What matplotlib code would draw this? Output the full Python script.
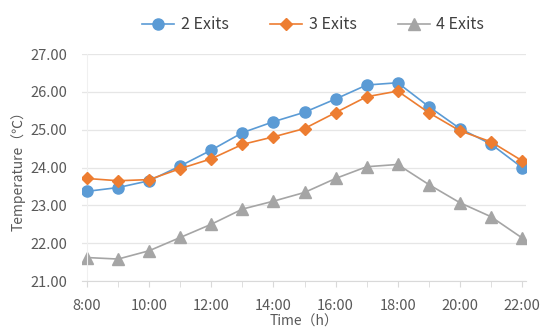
import matplotlib
matplotlib.use("Agg")
import matplotlib.pyplot as plt
from matplotlib.ticker import FixedLocator, FuncFormatter

plt.rcParams['font.family'] = ['Noto Sans CJK SC', 'DejaVu Sans']

hours = list(range(8, 23))
hour_labels = [f"{h}:00" for h in hours]
exits2 = [23.37, 23.47, 23.65, 24.04, 24.46, 24.92, 25.21, 25.46, 25.81, 26.18,
          26.24, 25.61, 25.03, 24.62, 24.00]
exits3 = [23.71, 23.65, 23.68, 23.97, 24.23, 24.61, 24.81, 25.03, 25.45, 25.87,
          26.02, 25.45, 24.97, 24.68, 24.18]
exits4 = [21.62, 21.58, 21.80, 22.15, 22.50, 22.90, 23.11, 23.34, 23.71, 24.02,
          24.08, 23.55, 23.07, 22.70, 22.14]
y_ticks = [21, 22, 23, 24, 25, 26, 27]

text_color = "#595959"
grid_color = "#E6E6E6"

fig = plt.figure(figsize=(5.42, 3.31), dpi=100)
ax = fig.add_axes([82 / 542, 50 / 331, 444 / 542, 227 / 331])

ax.plot(hours, exits2, color="#5B9BD5", lw=1.2, marker="o", ms=8,
        label="2 Exits", zorder=3)
ax.plot(hours, exits3, color="#ED7D31", lw=1.2, marker="D", ms=6.3,
        label="3 Exits", zorder=4)
ax.plot(hours, exits4, color="#A5A5A5", lw=1.2, marker="^", ms=8.5,
        label="4 Exits", zorder=2)

ax.set_ylim(21, 27)
ax.set_xlim(8 - 5 / 31.07, 22 + 4 / 31.07)
ax.set_yticks(y_ticks)
ax.yaxis.set_major_formatter(FuncFormatter(lambda v, p: f"{v:.2f}"))
ax.set_xticks(hours[::2])
ax.set_xticklabels(hour_labels[::2])
ax.xaxis.set_minor_locator(FixedLocator(hours[1::2]))

ax.grid(axis="y", color=grid_color, lw=0.9)
ax.set_axisbelow(True)
for side in ["top", "right"]:
    ax.spines[side].set_visible(False)
ax.spines["bottom"].set_color("#D9D9D9")
ax.spines["left"].set_position(("data", 8))
ax.spines["left"].set_color("#F0F0F0")

ax.tick_params(axis="y", length=0, pad=14, labelsize=10.5, labelcolor=text_color)
ax.tick_params(axis="x", which="both", length=4, color="#D9D9D9", pad=9,
               labelsize=10.5, labelcolor=text_color)

ax.set_xlabel("Time（h）", fontsize=10, color=text_color, labelpad=1)
ax.set_ylabel("Temperature（℃）", fontsize=10, color=text_color, labelpad=4)

fig.legend(loc="center", bbox_to_anchor=(0.578, 0.925), ncol=3, frameon=False,
           fontsize=11.5, handlelength=2.0, columnspacing=2.6, handletextpad=0.4,
           labelcolor="#404040")

fig.savefig("out.png", dpi=100)
